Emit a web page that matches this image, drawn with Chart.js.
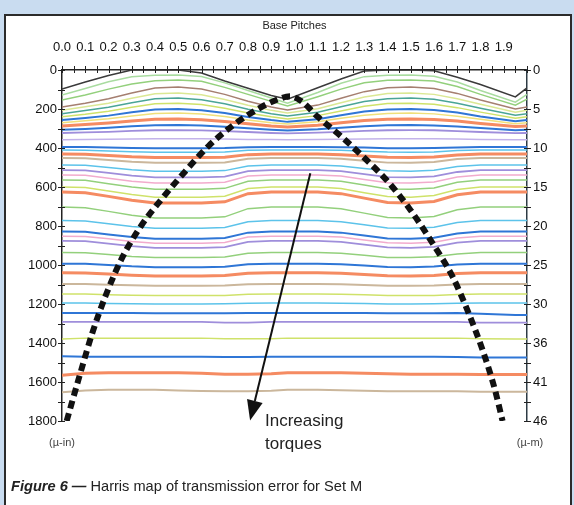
<!DOCTYPE html>
<html>
<head>
<meta charset="utf-8">
<script src="https://cdn.jsdelivr.net/npm/chart.js@4.4.1/dist/chart.umd.min.js"></script>
<style>
  html, body { margin: 0; padding: 0; }
  body { width: 574px; height: 505px; background: #c9dcf0; position: relative; overflow: hidden;
         font-family: "Liberation Sans", Arial, sans-serif; }
  #panel { position: absolute; left: 4px; top: 14px; width: 564px; height: 500px; background: #fff;
           border: 2px solid #2b2b2b; }
  #wrap { position: absolute; left: 0; top: 0; width: 574px; height: 505px; }
  #caption { position: absolute; left: 11px; top: 478px; font-size: 14.6px; color: #222; white-space: nowrap; }
  #caption b { font-style: italic; }
</style>
</head>
<body>
<div id="panel"></div>
<div id="wrap"><canvas id="harris"></canvas></div>
<div id="caption"><b>Figure 6 &mdash;</b> Harris map of transmission error for Set M</div>
<script>
// x positions (base pitches) where each trace was read
const xPitch = [0, 0.1, 0.2, 0.3, 0.4, 0.5, 0.6, 0.7, 0.8, 0.9, 0.97, 1.1, 1.2, 1.3, 1.4, 1.5, 1.6, 1.7, 1.8, 1.95, 2.0];

// transmission error traces (micro-inch), lightest torque first
const t01 = [97, 62, 28, 0, 0, 0, 15, 56, 94, 131, 150, 91, 46, 5, 0, 0, 4, 37, 74, 138, 92];
const t02 = [128, 95, 60, 35, 27, 26, 33, 66, 105, 144, 170, 115, 68, 34, 27, 26, 32, 62, 105, 165, 125];
const t03 = [154, 128, 98, 72, 55, 51, 58, 89, 125, 161, 185, 137, 98, 65, 53, 51, 56, 85, 125, 180, 150];
const t04 = [190, 170, 147, 118, 92, 87, 98, 125, 160, 190, 205, 180, 145, 111, 91, 87, 95, 120, 154, 200, 190];
const t05 = [207, 189, 170, 145, 122, 118, 127, 151, 181, 207, 220, 199, 168, 138, 121, 118, 125, 147, 176, 216, 207];
const t06 = [224, 208, 191, 168, 148, 144, 152, 173, 201, 224, 236, 217, 189, 162, 147, 144, 150, 170, 196, 232, 224];
const t07 = [240, 227, 211, 191, 173, 170, 177, 196, 220, 240, 251, 234, 210, 186, 172, 170, 176, 193, 216, 248, 240];
const t08 = [257, 246, 234, 217, 203, 200, 206, 221, 241, 257, 266, 252, 232, 213, 202, 200, 205, 218, 238, 263, 257];
const t09 = [270, 260, 250, 236, 223, 221, 226, 239, 256, 270, 277, 265, 248, 232, 223, 221, 225, 237, 253, 275, 270];
const t10 = [287, 280, 272, 262, 253, 251, 255, 264, 276, 287, 292, 283, 271, 259, 252, 251, 254, 262, 274, 290, 287];
const t11 = [306, 302, 296, 289, 283, 282, 285, 291, 299, 306, 310, 304, 296, 288, 283, 282, 284, 290, 298, 309, 306];
const t12 = [323, 320, 317, 312, 309, 308, 310, 313, 318, 323, 325, 321, 317, 312, 309, 308, 309, 313, 318, 324, 323];
const t13 = [358, 357, 355, 354, 352, 352, 353, 354, 356, 357, 358, 357, 355, 354, 353, 352, 353, 354, 356, 358, 358];
const t14 = [395, 395, 397, 400, 401, 401, 401, 400, 396, 395, 395, 395, 396, 398, 401, 401, 400, 397, 395, 395, 395];
const t15 = [410, 411, 415, 419, 422, 422, 422, 421, 412, 410, 410, 410, 412, 417, 421, 422, 420, 413, 410, 410, 410];
const t16 = [431, 432, 438, 445, 449, 449, 449, 447, 434, 431, 431, 431, 434, 441, 448, 449, 446, 436, 431, 431, 431];
const t17 = [451, 452, 461, 470, 476, 476, 476, 474, 455, 451, 451, 451, 455, 465, 475, 476, 472, 457, 451, 451, 451];
const t18 = [487, 489, 500, 511, 519, 519, 519, 516, 492, 487, 487, 487, 492, 505, 517, 519, 514, 495, 487, 487, 487];
const t19 = [513, 515, 528, 542, 551, 551, 551, 547, 519, 513, 513, 513, 519, 534, 549, 551, 545, 523, 513, 513, 513];
const t20 = [538, 540, 555, 570, 580, 580, 580, 576, 544, 538, 538, 538, 544, 561, 578, 580, 574, 549, 538, 538, 538];
const t21 = [564, 566, 583, 600, 612, 612, 612, 607, 571, 564, 564, 564, 571, 590, 610, 612, 605, 576, 564, 564, 564];
const t22 = [600, 603, 621, 639, 652, 652, 652, 647, 608, 600, 600, 600, 608, 629, 649, 652, 644, 613, 600, 600, 600];
const t23 = [626, 629, 648, 668, 682, 682, 682, 676, 634, 626, 626, 626, 634, 657, 679, 682, 674, 640, 626, 626, 626];
const t24 = [703, 706, 725, 745, 759, 759, 759, 753, 711, 703, 703, 703, 711, 734, 756, 759, 751, 717, 703, 703, 703];
const t25 = [772, 774, 788, 802, 812, 812, 812, 808, 778, 772, 772, 772, 778, 794, 810, 812, 806, 782, 772, 772, 772];
const t26 = [828, 830, 843, 857, 866, 866, 866, 862, 834, 828, 828, 828, 834, 849, 864, 866, 860, 838, 828, 828, 828];
const t27 = [852, 854, 866, 879, 888, 888, 888, 884, 857, 852, 852, 852, 857, 872, 886, 888, 883, 861, 852, 852, 852];
const t28 = [876, 878, 890, 903, 912, 912, 912, 908, 881, 876, 876, 876, 881, 896, 910, 912, 907, 885, 876, 876, 876];
const t29 = [936, 937, 946, 956, 962, 962, 962, 959, 940, 936, 936, 936, 940, 950, 961, 962, 958, 943, 936, 936, 936];
const t30 = [993, 994, 1000, 1007, 1011, 1011, 1011, 1009, 996, 993, 993, 993, 996, 1003, 1010, 1011, 1008, 998, 993, 993, 993];
const t31 = [1040, 1041, 1046, 1052, 1056, 1056, 1056, 1054, 1042, 1040, 1040, 1040, 1042, 1049, 1055, 1056, 1054, 1044, 1040, 1040, 1040];
const t32 = [1098, 1098, 1101, 1104, 1106, 1106, 1106, 1105, 1099, 1098, 1098, 1098, 1099, 1102, 1106, 1106, 1105, 1100, 1098, 1098, 1098];
const t33 = [1149, 1149, 1152, 1155, 1157, 1157, 1157, 1156, 1150, 1149, 1149, 1149, 1150, 1153, 1157, 1157, 1156, 1151, 1149, 1149, 1149];
const t34 = [1195, 1195, 1197, 1199, 1200, 1200, 1200, 1199, 1196, 1195, 1195, 1195, 1196, 1198, 1200, 1200, 1199, 1196, 1195, 1195, 1195];
const t35 = [1246, 1246, 1246, 1246, 1248, 1248, 1248, 1248, 1246, 1246, 1246, 1246, 1246, 1246, 1248, 1248, 1248, 1246, 1250, 1256, 1256];
const t36 = [1292, 1292, 1292, 1292, 1292, 1292, 1292, 1295, 1295, 1292, 1292, 1292, 1292, 1292, 1292, 1292, 1292, 1292, 1295, 1296, 1296];
const t37 = [1380, 1375, 1375, 1375, 1375, 1375, 1375, 1378, 1378, 1378, 1375, 1375, 1375, 1375, 1375, 1375, 1375, 1375, 1378, 1380, 1380];
const t38 = [1468, 1470, 1470, 1470, 1470, 1470, 1470, 1472, 1472, 1470, 1470, 1470, 1470, 1470, 1470, 1470, 1470, 1472, 1474, 1474, 1474];
const t39 = [1565, 1555, 1553, 1553, 1553, 1553, 1555, 1560, 1560, 1558, 1553, 1553, 1553, 1555, 1558, 1560, 1560, 1560, 1562, 1562, 1562];
const t40 = [1652, 1643, 1640, 1640, 1640, 1643, 1646, 1648, 1648, 1645, 1640, 1640, 1642, 1645, 1648, 1648, 1648, 1648, 1650, 1650, 1650];

const traces = [t01, t02, t03, t04, t05, t06, t07, t08, t09, t10, t11, t12, t13, t14, t15, t16, t17, t18, t19, t20,
                t21, t22, t23, t24, t25, t26, t27, t28, t29, t30, t31, t32, t33, t34, t35, t36, t37, t38, t39, t40];

// dashed envelope curve
const envX = [0.02, 0.08, 0.13, 0.19, 0.26, 0.34, 0.43, 0.53, 0.63, 0.74, 0.85, 0.93, 0.98, 1.03, 1.10, 1.20, 1.30, 1.40, 1.50, 1.60, 1.68, 1.75, 1.81, 1.86, 1.895];
const envY = [1800, 1550, 1350, 1150, 960, 800, 660, 520, 390, 280, 195, 150, 135, 160, 240, 340, 450, 570, 720, 900, 1060, 1250, 1440, 1630, 1800];

// axis labels
const topTickLabels = ['0.0', '0.1', '0.2', '0.3', '0.4', '0.5', '0.6', '0.7', '0.8', '0.9',
                       '1.0', '1.1', '1.2', '1.3', '1.4', '1.5', '1.6', '1.7', '1.8', '1.9'];
const leftTickLabels = ['0', '200', '400', '600', '800', '1000', '1200', '1400', '1600', '1800'];
const rightTickLabels = ['0', '5', '10', '15', '20', '25', '30', '36', '41', '46'];

// arrow annotation (data units)
const arrowFrom = [1.068, 530];
const arrowTo = [0.809, 1797];
const arrowText = ['Increasing', 'torques'];
const arrowTextAt = [0.873, 1800];

// styles
const kinds = ['k', 'lg', 'g', 'br', 'ly', 't', 'yg', 'b', 'y', 'o', 'b', 'p', 'lv', 'b', 'c', 'o', 'be', 'c', 'p', 'pk',
               'g', 'yg', 'o', 'g', 'c', 'b', 'pk', 'p', 'g', 'b', 'o', 'be', 'yg', 'c', 'b', 'p', 'yg', 'b', 'o', 'be'];
const styles = {
  k: ['#3a3a3a', 1.5], lg: ['#a9dca0', 1.5], g: ['#93d07c', 1.5], br: ['#a57f70', 1.5], ly: ['#dbe894', 1.5],
  t: ['#4aa596', 1.5], yg: ['#cfe26a', 1.5], b: ['#2f76d6', 2], y: ['#f0e07a', 1.5], o: ['#f58b62', 3],
  p: ['#9f8edb', 1.8], lv: ['#c3b3ea', 1.5], c: ['#5cc3ea', 1.5], be: ['#cbb79c', 2], pk: ['#f2abcd', 1.5]
};

const tickFont = {family: '"Liberation Sans Narrow", "Liberation Sans", Arial, sans-serif', size: 13};

const datasets = [{
  data: envX.map((x, i) => ({x: x, y: envY[i]})),
  borderColor: '#111',
  borderWidth: 6,
  borderDash: [8, 5],
  cubicInterpolationMode: 'monotone',
  pointRadius: 0,
  order: 0
}];
traces.forEach((t, i) => {
  const s = styles[kinds[i]];
  datasets.push({
    data: xPitch.map((x, j) => ({x: x, y: t[j]})),
    borderColor: s[0],
    borderWidth: s[1],
    pointRadius: 0,
    tension: 0,
    order: 1
  });
});

const extras = {
  id: 'extras',
  afterDraw(chart) {
    const {ctx, chartArea: a, scales: {x, y}} = chart;
    ctx.save();
    // crossing tick marks
    ctx.strokeStyle = '#222';
    ctx.lineWidth = 1;
    ctx.beginPath();
    for (let v = 0; v <= 2.0001; v += 0.05) {
      const px = Math.round(x.getPixelForValue(v)) + 0.5;
      ctx.moveTo(px, a.top - 4);
      ctx.lineTo(px, a.top + 3);
    }
    for (let v = 0; v <= 1800; v += 100) {
      const py = Math.round(y.getPixelForValue(v)) + 0.5;
      ctx.moveTo(a.left - 4, py);
      ctx.lineTo(a.left + 3, py);
      ctx.moveTo(a.right - 3, py);
      ctx.lineTo(a.right + 4, py);
    }
    ctx.stroke();

    // arrow
    const x0 = x.getPixelForValue(arrowFrom[0]), y0 = y.getPixelForValue(arrowFrom[1]);
    const x1 = x.getPixelForValue(arrowTo[0]), y1 = y.getPixelForValue(arrowTo[1]);
    const ang = Math.atan2(y1 - y0, x1 - x0);
    const hl = 20, hw = 8;
    const bx = x1 - hl * Math.cos(ang), by = y1 - hl * Math.sin(ang);
    ctx.strokeStyle = '#111';
    ctx.fillStyle = '#111';
    ctx.lineWidth = 2;
    ctx.beginPath();
    ctx.moveTo(x0, y0);
    ctx.lineTo(bx, by);
    ctx.stroke();
    ctx.beginPath();
    ctx.moveTo(x1, y1);
    ctx.lineTo(bx + hw * Math.sin(ang), by - hw * Math.cos(ang));
    ctx.lineTo(bx - hw * Math.sin(ang), by + hw * Math.cos(ang));
    ctx.closePath();
    ctx.fill();

    // arrow text
    ctx.fillStyle = '#222';
    ctx.font = '17px "Liberation Sans", Arial, sans-serif';
    ctx.textAlign = 'left';
    ctx.textBaseline = 'middle';
    const tx = x.getPixelForValue(arrowTextAt[0]), ty = y.getPixelForValue(arrowTextAt[1]);
    ctx.fillText(arrowText[0], tx, ty);
    ctx.fillText(arrowText[1], tx, ty + 23);

    // unit labels
    ctx.fillStyle = '#444';
    ctx.font = '11px "Liberation Sans Narrow", "Liberation Sans", Arial, sans-serif';
    ctx.textAlign = 'center';
    ctx.fillText('(\u00b5-in)', a.left, a.bottom + 22);
    ctx.fillText('(\u00b5-m)', a.right + 3, a.bottom + 22);
    ctx.restore();
  }
};

new Chart(document.getElementById('harris'), {
  type: 'line',
  data: {datasets: datasets},
  options: {
    responsive: true,
    maintainAspectRatio: false,
    animation: false,
    layout: {padding: {top: 14, left: 0, right: 0, bottom: 84}},
    plugins: {legend: {display: false}, tooltip: {enabled: false}},
    scales: {
      x: {
        type: 'linear',
        position: 'top',
        min: 0,
        max: 2,
        grid: {display: false, drawTicks: false},
        border: {display: true, color: '#222', width: 1.5},
        title: {display: true, text: 'Base Pitches', color: '#222',
                font: {family: '"Liberation Sans", Arial, sans-serif', size: 11}, padding: {top: 5, bottom: 0}},
        ticks: {
          stepSize: 0.1, autoSkip: false, maxRotation: 0, minRotation: 0, padding: 15,
          color: '#111', font: tickFont,
          callback: (v, i) => topTickLabels[i] ?? ''
        },
        afterFit: s => { s.height = 56; }
      },
      y: {
        position: 'left',
        reverse: true,
        min: 0,
        max: 1800,
        grid: {display: false, drawTicks: false},
        border: {display: true, color: '#222', width: 1.5},
        ticks: {stepSize: 200, padding: 5, color: '#111', font: tickFont,
                callback: v => leftTickLabels[Math.round(v / 200)] ?? ''},
        afterFit: s => { s.width = 62; }
      },
      y2: {
        position: 'right',
        reverse: true,
        min: 0,
        max: 1800,
        grid: {display: false, drawTicks: false},
        border: {display: true, color: '#2d3b44', width: 1.5},
        ticks: {stepSize: 200, padding: 6, color: '#111', font: tickFont,
                callback: v => rightTickLabels[Math.round(v / 200)] ?? ''},
        afterFit: s => { s.width = 47; }
      }
    }
  },
  plugins: [extras]
});
</script>
</body>
</html>
